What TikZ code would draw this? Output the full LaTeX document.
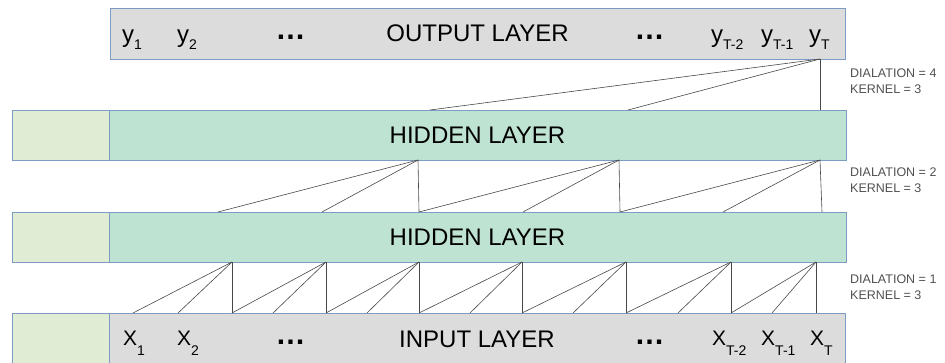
\documentclass[tikz,border=0pt]{standalone}
\usepackage{fontspec}
\setmainfont{Liberation Sans}
\definecolor{bordercol}{HTML}{7C9CC4}
\definecolor{grayfill}{HTML}{DCDCDC}
\definecolor{hidfill}{HTML}{BFE3D3}
\definecolor{padfill}{HTML}{E0EDD4}
\definecolor{linkcol}{HTML}{484848}
\definecolor{notecol}{HTML}{505050}
\newcommand\ysub[1]{\raisebox{-7pt}{\fontsize{14}{14}\selectfont #1}}
\newcommand\xsub[1]{\raisebox{-10pt}{\fontsize{14}{14}\selectfont #1}}
\begin{document}
\begin{tikzpicture}[x=1pt,y=-1pt,
  layerbox/.style={draw=bordercol, line width=0.8pt, inner sep=0pt, font=\fontsize{24}{28}\selectfont},
  padbox/.style={layerbox, fill=padfill, minimum width=97pt, minimum height=50pt},
  ylbl/.style={anchor=base west, inner sep=0pt, font=\fontsize{24}{28}\selectfont},
  xlbl/.style={anchor=base west, inner sep=0pt, font=\fontsize{21}{25}\selectfont},
  dotlbl/.style={anchor=base, inner sep=0pt, font=\bfseries\fontsize{30}{30}\selectfont},
  note/.style={anchor=west, align=left, inner sep=0pt, text=notecol, font=\fontsize{12.5}{16}\selectfont},
  link/.style={draw=linkcol, line width=0.6pt}]
\useasboundingbox (0,0) rectangle (945,362);
\clip (0,0) rectangle (945,362);

% boxes
\node[layerbox, fill=grayfill, minimum width=735pt, minimum height=51pt] (out) at (477.5,33.5) {OUTPUT LAYER};
\node[padbox] (pad1) at (60.5,135) {};
\node[layerbox, fill=hidfill, minimum width=737pt, minimum height=50pt] (hid1) at (477.5,135) {HIDDEN LAYER};
\node[padbox] (pad2) at (60.5,237) {};
\node[layerbox, fill=hidfill, minimum width=737pt, minimum height=50pt] (hid2) at (477.5,237) {HIDDEN LAYER};
\node[padbox, minimum height=52pt] (pad3) at (60.5,339) {};
\node[layerbox, fill=grayfill, minimum width=736pt, minimum height=52pt] (inp) at (477,339) {INPUT LAYER};

% output labels
\node[ylbl] (y1) at (122,42) {y\ysub{1}};
\node[ylbl] (y2) at (177,42) {y\ysub{2}};
\node[dotlbl] (yd1) at (290.5,39) {…};
\node[dotlbl] (yd2) at (649.5,39) {…};
\node[ylbl] (yT2) at (711,42) {y\ysub{T-2}};
\node[ylbl] (yT1) at (761,42) {y\ysub{T-1}};
\node[ylbl] (yT) at (809,42) {y\ysub{T}};

% input labels
\node[xlbl] (x1) at (123,345) {X\xsub{1}};
\node[xlbl] (x2) at (177,345) {X\xsub{2}};
\node[dotlbl] (xd1) at (290.5,344) {…};
\node[dotlbl] (xd2) at (649.5,344) {…};
\node[xlbl] (xT2) at (712,345) {X\xsub{T-2}};
\node[xlbl] (xT1) at (761,345) {X\xsub{T-1}};
\node[xlbl] (xT) at (810,345) {X\xsub{T}};

% notes
\node[note] (n4) at (850,81) {DIALATION = 4\\KERNEL = 3};
\node[note] (n2) at (850,180.5) {DIALATION = 2\\KERNEL = 3};
\node[note] (n1) at (850,287.5) {DIALATION = 1\\KERNEL = 3};

% layer 1: input -> hidden 2 (dilation 1)
\foreach \x [count=\i] in {133,178,232,273,326,367,419,470,522,573,626,678,731,772,816}
  \coordinate (ia\i) at (\x,313);
\foreach \x [count=\i] in {232,326,419,522,626,731,816}
  \coordinate (hb\i) at (\x,262);
\foreach \i in {1,...,7} {
  \pgfmathtruncatemacro\ka{2*\i-1}
  \pgfmathtruncatemacro\kb{2*\i}
  \pgfmathtruncatemacro\kc{2*\i+1}
  \draw[link] (hb\i) -- (ia\ka);
  \draw[link] (hb\i) -- (ia\kb);
  \draw[link] (hb\i) -- (ia\kc);
}

% layer 2: hidden 2 -> hidden 1 (dilation 2)
\foreach \x [count=\i] in {218,322,419,523,620,723,822}
  \coordinate (ht\i) at (\x,212);
\foreach \x [count=\i] in {418,619,820}
  \coordinate (gb\i) at (\x,160);
\foreach \i in {1,...,3} {
  \pgfmathtruncatemacro\ka{2*\i-1}
  \pgfmathtruncatemacro\kb{2*\i}
  \pgfmathtruncatemacro\kc{2*\i+1}
  \draw[link] (gb\i) -- (ht\ka);
  \draw[link] (gb\i) -- (ht\kb);
  \draw[link] (gb\i) -- (ht\kc);
}

% layer 3: hidden 1 -> output (dilation 4)
\coordinate (gt1) at (430,110);
\coordinate (gt2) at (628,110);
\coordinate (gt3) at (820,110);
\coordinate (ob) at (820,59);
\draw[link] (ob) -- (gt1);
\draw[link] (ob) -- (gt2);
\draw[link] (ob) -- (gt3);
\end{tikzpicture}
\end{document}
